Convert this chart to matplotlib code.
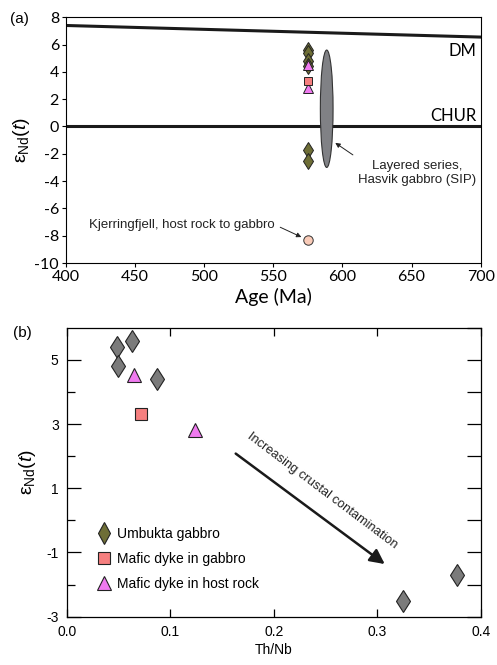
import matplotlib
matplotlib.use('Agg')
import matplotlib.pyplot as plt
from matplotlib.patches import Ellipse
from matplotlib.lines import Line2D

plt.rcParams['font.family'] = ['Liberation Sans', 'DejaVu Sans']
plt.rcParams['mathtext.fontset'] = 'custom'
plt.rcParams['mathtext.rm'] = 'Liberation Sans'
plt.rcParams['mathtext.it'] = 'Liberation Sans:italic'
plt.rcParams['axes.unicode_minus'] = False

# data
age = 575
umbukta_end = [5.6, 5.4, 4.8, 4.4, -1.7, -2.5]
umbukta_thnb = [0.0625, 0.0486, 0.049, 0.0866, 0.377, 0.3243]
dyke_gabbro_end = [3.3]
dyke_gabbro_thnb = [0.0715]
dyke_host_end = [4.53, 2.8]
dyke_host_thnb = [0.0644, 0.1237]
kjerring_end = -8.3
dm_age = [400, 700]
dm_end = [7.4, 6.55]
chur_end = 0
hasvik_age = 588.6
hasvik_mid = 1.3
hasvik_range = 8.6
hasvik_width = 9.2

olive = '#6e6e36'
grey = '#7b7b7b'
salmon = '#f57f7f'
magenta = '#f07af0'
ylab = 'ε$_{\\mathrm{Nd}}$($t$)'

fig = plt.figure(figsize=(4.97, 6.65), dpi=100)

# ---- (a)
ax = fig.add_axes([0.1328, 0.6045, 0.8344, 0.3695])
ax.plot(dm_age, dm_end, color='#1a1a1a', lw=2.2, zorder=2)
ax.axhline(chur_end, color='#1a1a1a', lw=2.2, zorder=2)
ax.add_patch(Ellipse((hasvik_age, hasvik_mid), hasvik_width, hasvik_range,
                     facecolor='#808185', edgecolor='#333333', lw=0.8, zorder=3))
ax.plot([age] * len(umbukta_end), umbukta_end, 'd', ms=8.6, mfc=olive, mec='#222222', mew=0.7, zorder=4)
ax.plot([age] * len(dyke_host_end), dyke_host_end, '^', ms=7.2, mfc=magenta, mec='#222222', mew=0.7, zorder=5)
ax.plot([age] * len(dyke_gabbro_end), dyke_gabbro_end, 's', ms=6.4, mfc=salmon, mec='#222222', mew=0.7, zorder=5)
ax.plot([age], [kjerring_end], 'o', ms=6.8, mfc='#f9cbb8', mec='#333333', mew=0.7, zorder=5)
ax.text(697, 5.5, 'DM', ha='right', va='center', fontsize=12, family='Lato')
ax.text(697, 0.8, 'CHUR', ha='right', va='center', fontsize=12, family='Lato')
ax.annotate('Layered series,\nHasvik gabbro (SIP)', xy=(594.8, -1.2), xytext=(654, -3.4),
            ha='center', va='center', fontsize=9.5, color='#222222',
            arrowprops=dict(arrowstyle='-|>', lw=0.7, color='#222222', mutation_scale=7,
                            shrinkA=3, shrinkB=0, relpos=(0.1, 0.75)))
ax.annotate('Kjerringfjell, host rock to gabbro', xy=(570.3, -8.1), xytext=(484, -7.2),
            ha='center', va='center', fontsize=9.5, color='#222222',
            arrowprops=dict(arrowstyle='-|>', lw=0.7, color='#222222', mutation_scale=7,
                            shrinkA=2, shrinkB=0, relpos=(1.0, 0.5)))
ax.set_xlim(400, 700)
ax.set_ylim(-10, 8)
ax.set_xticks(range(400, 701, 50))
ax.set_yticks(range(-10, 9, 2))
ax.tick_params(direction='out', length=3, width=0.8, labelsize=11.5, pad=2)
for lb in ax.get_xticklabels() + ax.get_yticklabels():
    lb.set_family('Lato')
ax.set_xlabel('Age (Ma)', fontsize=14, family='Lato', labelpad=3)
ax.set_ylabel(ylab, fontsize=14, labelpad=2)
for s in ax.spines.values():
    s.set_linewidth(0.8)
fig.text(0.04, 0.972, '(a)', fontsize=11, ha='center', va='center')

# ---- (b)
bx = fig.add_axes([0.1348, 0.0726, 0.833, 0.4346])
bx.plot(umbukta_thnb, umbukta_end, 'd', ms=11.5, mfc=grey, mec='#222222', mew=0.8, zorder=4)
bx.plot(dyke_gabbro_thnb, dyke_gabbro_end, 's', ms=8.4, mfc=salmon, mec='#222222', mew=0.8, zorder=4)
bx.plot(dyke_host_thnb, dyke_host_end, '^', ms=9.8, mfc=magenta, mec='#222222', mew=0.8, zorder=4)
bx.annotate('', xy=(0.307, -1.36), xytext=(0.163, 2.08),
            arrowprops=dict(arrowstyle='-|>', lw=1.8, color='#1a1a1a', mutation_scale=22,
                            shrinkA=0, shrinkB=0))
bx.text(0.247, 0.93, 'Increasing crustal contamination', rotation=-37, rotation_mode='anchor',
        ha='center', va='center', fontsize=9.3, color='#222222')
bx.set_xlim(0, 0.4)
bx.set_ylim(-3, 6)
bx.set_xticks([0.0, 0.1, 0.2, 0.3, 0.4])
bx.set_xticklabels(['0.0', '0.1', '0.2', '0.3', '0.4'])
bx.set_yticks([-3, -1, 1, 3, 5])
bx.set_yticks([-2, 0, 2, 4], minor=True)
bx.tick_params(axis='x', which='both', direction='in', top=True, length=6, width=0.9, labelsize=10, pad=6)
bx.tick_params(axis='y', which='major', direction='in', length=10, width=0.9, labelsize=10, pad=6)
bx.tick_params(axis='y', which='minor', direction='in', length=6, width=0.9)
sec = bx.secondary_yaxis('right')
sec.set_yticks(range(-3, 7))
sec.tick_params(direction='in', length=10, width=0.9, labelright=False)
sec.spines['right'].set_visible(False)
bx.set_xlabel('Th/Nb', fontsize=10, labelpad=3)
bx.set_ylabel(ylab, fontsize=14, labelpad=6)
for s in bx.spines.values():
    s.set_linewidth(0.9)
fig.text(0.045, 0.5, '(b)', fontsize=11, ha='center', va='center')

handles = [
    Line2D([], [], ls='none', marker='d', ms=11, mfc=olive, mec='#222222', mew=0.8),
    Line2D([], [], ls='none', marker='s', ms=9, mfc=salmon, mec='#222222', mew=0.8),
    Line2D([], [], ls='none', marker='^', ms=10, mfc=magenta, mec='#222222', mew=0.8),
]
bx.legend(handles, ['Umbukta gabbro', 'Mafic dyke in gabbro', 'Mafic dyke in host rock'],
          loc='upper left', bbox_to_anchor=(0.055, 0.33), frameon=False, fontsize=10,
          handletextpad=0.35, labelspacing=0.8, handlelength=1.2, borderaxespad=0)

fig.savefig('out.png', dpi=100)
